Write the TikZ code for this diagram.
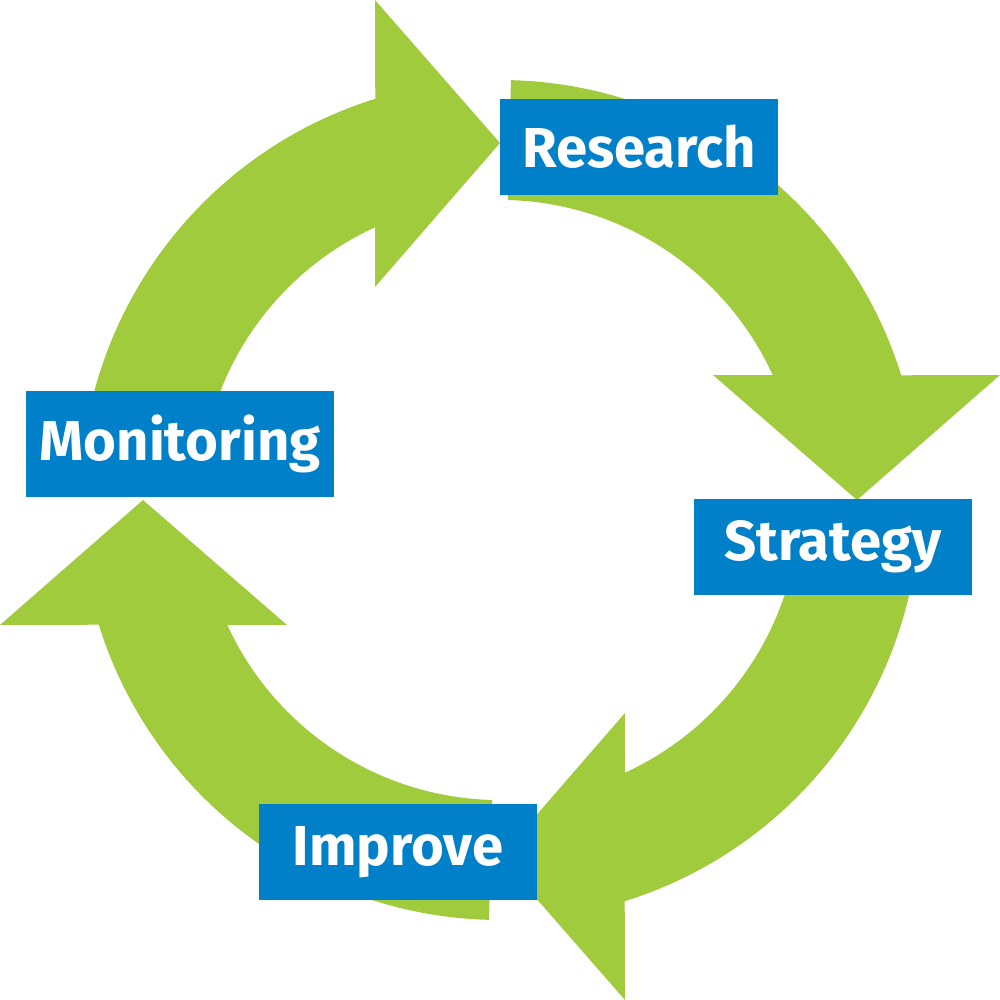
\documentclass[tikz,border=0pt]{standalone}
\usepackage{fontspec}
\setmainfont{Fira Sans}
\definecolor{grn}{HTML}{A0CB3C}
\definecolor{blu}{HTML}{0080C8}
\begin{document}
\begin{tikzpicture}[x=0.01cm,y=0.01cm,
  arr/.style={fill=grn,draw=none},
  lbl/.style={fill=blu,text=white,font=\fontsize{16}{18}\selectfont\bfseries,inner sep=0pt,minimum height=0.95cm,anchor=center}]
\useasboundingbox (-500,-500) rectangle (500,500);
\foreach \r in {0,-90,-180,-270}{
 \fill[arr,rotate=\r] (178.5:300) -- (178.5:420) arc[start angle=178.5,end angle=107.3,radius=4.2cm] -- (-125,500) -- (0,357) -- (-125,213) -- (114.6:300) arc[start angle=114.6,end angle=178.5,radius=3cm] -- cycle;
}
\node[lbl,minimum width=2.78cm] (research) at (139,353) {Research};
\node[lbl,minimum width=2.78cm] (strategy) at (333,-47) {Strategy};
\node[lbl,minimum width=2.78cm] (improve) at (-102,-352) {Improve};
\node[lbl,minimum width=3.07cm,minimum height=1.05cm] (monitoring) at (-320,56) {Monitoring};
\end{tikzpicture}
\end{document}
